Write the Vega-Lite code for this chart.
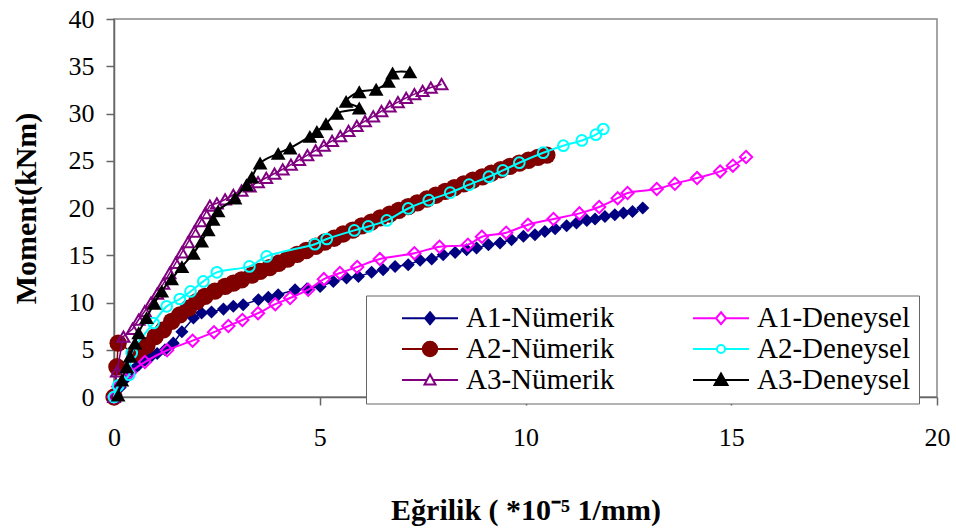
{
"$schema": "https://vega.github.io/schema/vega-lite/v6.json",
"width": 823, "height": 378,
"autosize": {"type": "none"},
"padding": {"left": 114, "top": 19, "right": 19, "bottom": 132},
"background": "white",
"data": {"values": [
{"series":"A1-Nümerik","x":0,"y":0},{"series":"A1-Nümerik","x":0.15,"y":1.0},{"series":"A1-Nümerik","x":0.3,"y":2.0},{"series":"A1-Nümerik","x":0.45,"y":2.8},{"series":"A1-Nümerik","x":0.6,"y":3.4},{"series":"A1-Nümerik","x":0.75,"y":3.9},{"series":"A1-Nümerik","x":0.9,"y":4.3},{"series":"A1-Nümerik","x":1.05,"y":4.6},{"series":"A1-Nümerik","x":1.24,"y":5.0},{"series":"A1-Nümerik","x":1.44,"y":5.7},{"series":"A1-Nümerik","x":1.65,"y":6.9},{"series":"A1-Nümerik","x":1.93,"y":8.35},{"series":"A1-Nümerik","x":2.13,"y":8.9},{"series":"A1-Nümerik","x":2.37,"y":9.0},{"series":"A1-Nümerik","x":2.66,"y":9.3},{"series":"A1-Nümerik","x":2.9,"y":9.6},{"series":"A1-Nümerik","x":3.14,"y":9.77},{"series":"A1-Nümerik","x":3.51,"y":10.3},{"series":"A1-Nümerik","x":3.75,"y":10.55},{"series":"A1-Nümerik","x":3.99,"y":10.83},{"series":"A1-Nümerik","x":4.4,"y":11.35},{"series":"A1-Nümerik","x":4.69,"y":11.46},{"series":"A1-Nümerik","x":5.01,"y":11.7},{"series":"A1-Nümerik","x":5.33,"y":12.23},{"series":"A1-Nümerik","x":5.65,"y":12.59},{"series":"A1-Nümerik","x":5.94,"y":12.76},{"series":"A1-Nümerik","x":6.26,"y":13.19},{"series":"A1-Nümerik","x":6.54,"y":13.47},{"series":"A1-Nümerik","x":6.83,"y":13.82},{"series":"A1-Nümerik","x":7.15,"y":14.0},{"series":"A1-Nümerik","x":7.44,"y":14.46},{"series":"A1-Nümerik","x":7.72,"y":14.6},{"series":"A1-Nümerik","x":8.0,"y":15.06},{"series":"A1-Nümerik","x":8.29,"y":15.3},{"series":"A1-Nümerik","x":8.57,"y":15.59},{"series":"A1-Nümerik","x":8.81,"y":15.77},{"series":"A1-Nümerik","x":9.1,"y":16.12},{"series":"A1-Nümerik","x":9.38,"y":16.3},{"series":"A1-Nümerik","x":9.66,"y":16.65},{"series":"A1-Nümerik","x":9.95,"y":17.0},{"series":"A1-Nümerik","x":10.23,"y":17.17},{"series":"A1-Nümerik","x":10.47,"y":17.52},{"series":"A1-Nümerik","x":10.72,"y":17.8},{"series":"A1-Nümerik","x":11.0,"y":18.13},{"series":"A1-Nümerik","x":11.24,"y":18.41},{"series":"A1-Nümerik","x":11.49,"y":18.69},{"series":"A1-Nümerik","x":11.69,"y":18.84},{"series":"A1-Nümerik","x":11.93,"y":19.11},{"series":"A1-Nümerik","x":12.17,"y":19.29},{"series":"A1-Nümerik","x":12.38,"y":19.47},{"series":"A1-Nümerik","x":12.6,"y":19.64},{"series":"A1-Nümerik","x":12.85,"y":20.0},
{"series":"A2-Nümerik","x":0,"y":0},{"series":"A2-Nümerik","x":0.07,"y":3.2},{"series":"A2-Nümerik","x":0.1,"y":5.7},{"series":"A2-Nümerik","x":0.5,"y":4.6},{"series":"A2-Nümerik","x":0.65,"y":5.0},{"series":"A2-Nümerik","x":0.8,"y":5.45},{"series":"A2-Nümerik","x":1.0,"y":6.4},{"series":"A2-Nümerik","x":1.2,"y":7.1},{"series":"A2-Nümerik","x":1.4,"y":8.0},{"series":"A2-Nümerik","x":1.6,"y":8.7},{"series":"A2-Nümerik","x":1.81,"y":9.4},{"series":"A2-Nümerik","x":2.01,"y":10.1},{"series":"A2-Nümerik","x":2.21,"y":10.65},{"series":"A2-Nümerik","x":2.45,"y":11.2},{"series":"A2-Nümerik","x":2.7,"y":11.7},{"series":"A2-Nümerik","x":2.9,"y":12.05},{"series":"A2-Nümerik","x":3.1,"y":12.4},{"series":"A2-Nümerik","x":3.35,"y":12.9},{"series":"A2-Nümerik","x":3.55,"y":13.3},{"series":"A2-Nümerik","x":3.78,"y":13.7},{"series":"A2-Nümerik","x":4.0,"y":14.15},{"series":"A2-Nümerik","x":4.22,"y":14.6},{"series":"A2-Nümerik","x":4.45,"y":15.1},{"series":"A2-Nümerik","x":4.67,"y":15.5},{"series":"A2-Nümerik","x":4.9,"y":15.95},{"series":"A2-Nümerik","x":5.12,"y":16.4},{"series":"A2-Nümerik","x":5.35,"y":16.8},{"series":"A2-Nümerik","x":5.57,"y":17.25},{"series":"A2-Nümerik","x":5.8,"y":17.65},{"series":"A2-Nümerik","x":6.02,"y":18.1},{"series":"A2-Nümerik","x":6.25,"y":18.5},{"series":"A2-Nümerik","x":6.47,"y":18.95},{"series":"A2-Nümerik","x":6.7,"y":19.35},{"series":"A2-Nümerik","x":6.92,"y":19.75},{"series":"A2-Nümerik","x":7.15,"y":20.15},{"series":"A2-Nümerik","x":7.37,"y":20.55},{"series":"A2-Nümerik","x":7.6,"y":20.95},{"series":"A2-Nümerik","x":7.82,"y":21.35},{"series":"A2-Nümerik","x":8.05,"y":21.75},{"series":"A2-Nümerik","x":8.27,"y":22.15},{"series":"A2-Nümerik","x":8.5,"y":22.55},{"series":"A2-Nümerik","x":8.72,"y":22.95},{"series":"A2-Nümerik","x":8.95,"y":23.3},{"series":"A2-Nümerik","x":9.17,"y":23.7},{"series":"A2-Nümerik","x":9.4,"y":24.05},{"series":"A2-Nümerik","x":9.62,"y":24.4},{"series":"A2-Nümerik","x":9.85,"y":24.75},{"series":"A2-Nümerik","x":10.07,"y":25.05},{"series":"A2-Nümerik","x":10.3,"y":25.35},{"series":"A2-Nümerik","x":10.52,"y":25.6},
{"series":"A3-Nümerik","x":0,"y":0},{"series":"A3-Nümerik","x":0.07,"y":2.7},{"series":"A3-Nümerik","x":0.23,"y":6.4},{"series":"A3-Nümerik","x":0.45,"y":7.2},{"series":"A3-Nümerik","x":0.6,"y":8.2},{"series":"A3-Nümerik","x":0.75,"y":9.1},{"series":"A3-Nümerik","x":0.9,"y":10.0},{"series":"A3-Nümerik","x":1.05,"y":10.95},{"series":"A3-Nümerik","x":1.2,"y":12.0},{"series":"A3-Nümerik","x":1.35,"y":13.1},{"series":"A3-Nümerik","x":1.5,"y":14.2},{"series":"A3-Nümerik","x":1.65,"y":15.3},{"series":"A3-Nümerik","x":1.8,"y":16.4},{"series":"A3-Nümerik","x":1.95,"y":17.5},{"series":"A3-Nümerik","x":2.1,"y":18.6},{"series":"A3-Nümerik","x":2.22,"y":19.45},{"series":"A3-Nümerik","x":2.33,"y":20.25},{"series":"A3-Nümerik","x":2.5,"y":20.5},{"series":"A3-Nümerik","x":2.7,"y":20.9},{"series":"A3-Nümerik","x":2.9,"y":21.4},{"series":"A3-Nümerik","x":3.1,"y":21.85},{"series":"A3-Nümerik","x":3.3,"y":22.3},{"series":"A3-Nümerik","x":3.5,"y":22.75},{"series":"A3-Nümerik","x":3.7,"y":23.2},{"series":"A3-Nümerik","x":3.9,"y":23.65},{"series":"A3-Nümerik","x":4.1,"y":24.1},{"series":"A3-Nümerik","x":4.3,"y":24.6},{"series":"A3-Nümerik","x":4.5,"y":25.1},{"series":"A3-Nümerik","x":4.7,"y":25.6},{"series":"A3-Nümerik","x":4.9,"y":26.1},{"series":"A3-Nümerik","x":5.1,"y":26.6},{"series":"A3-Nümerik","x":5.3,"y":27.1},{"series":"A3-Nümerik","x":5.5,"y":27.6},{"series":"A3-Nümerik","x":5.7,"y":28.15},{"series":"A3-Nümerik","x":5.9,"y":28.7},{"series":"A3-Nümerik","x":6.1,"y":29.2},{"series":"A3-Nümerik","x":6.3,"y":29.7},{"series":"A3-Nümerik","x":6.5,"y":30.25},{"series":"A3-Nümerik","x":6.7,"y":30.75},{"series":"A3-Nümerik","x":6.9,"y":31.2},{"series":"A3-Nümerik","x":7.1,"y":31.65},{"series":"A3-Nümerik","x":7.3,"y":32.05},{"series":"A3-Nümerik","x":7.5,"y":32.4},{"series":"A3-Nümerik","x":7.7,"y":32.75},{"series":"A3-Nümerik","x":7.96,"y":33.1},
{"series":"A1-Deneysel","x":0,"y":0},{"series":"A1-Deneysel","x":0.1,"y":1.1},{"series":"A1-Deneysel","x":0.39,"y":2.6},{"series":"A1-Deneysel","x":0.75,"y":3.7},{"series":"A1-Deneysel","x":1.29,"y":4.95},{"series":"A1-Deneysel","x":1.91,"y":5.96},{"series":"A1-Deneysel","x":2.43,"y":6.86},{"series":"A1-Deneysel","x":2.78,"y":7.51},{"series":"A1-Deneysel","x":3.12,"y":8.15},{"series":"A1-Deneysel","x":3.5,"y":8.87},{"series":"A1-Deneysel","x":3.92,"y":9.82},{"series":"A1-Deneysel","x":4.28,"y":10.48},{"series":"A1-Deneysel","x":4.72,"y":11.35},{"series":"A1-Deneysel","x":5.1,"y":12.47},{"series":"A1-Deneysel","x":5.49,"y":13.12},{"series":"A1-Deneysel","x":5.91,"y":13.76},{"series":"A1-Deneysel","x":6.46,"y":14.6},{"series":"A1-Deneysel","x":7.3,"y":15.22},{"series":"A1-Deneysel","x":7.91,"y":15.9},{"series":"A1-Deneysel","x":8.6,"y":16.12},{"series":"A1-Deneysel","x":8.94,"y":16.96},{"series":"A1-Deneysel","x":9.53,"y":17.39},{"series":"A1-Deneysel","x":10.06,"y":18.23},{"series":"A1-Deneysel","x":10.68,"y":18.84},{"series":"A1-Deneysel","x":11.31,"y":19.43},{"series":"A1-Deneysel","x":11.79,"y":20.11},{"series":"A1-Deneysel","x":12.24,"y":21.04},{"series":"A1-Deneysel","x":12.48,"y":21.59},{"series":"A1-Deneysel","x":13.19,"y":22.01},{"series":"A1-Deneysel","x":13.63,"y":22.57},{"series":"A1-Deneysel","x":14.17,"y":23.17},{"series":"A1-Deneysel","x":14.73,"y":23.87},{"series":"A1-Deneysel","x":15.04,"y":24.48},{"series":"A1-Deneysel","x":15.36,"y":25.4},
{"series":"A2-Deneysel","x":0,"y":0},{"series":"A2-Deneysel","x":0.1,"y":1.2},{"series":"A2-Deneysel","x":0.37,"y":2.36},{"series":"A2-Deneysel","x":0.43,"y":4.66},{"series":"A2-Deneysel","x":0.96,"y":7.83},{"series":"A2-Deneysel","x":1.28,"y":9.59},{"series":"A2-Deneysel","x":1.6,"y":10.37},{"series":"A2-Deneysel","x":1.86,"y":11.17},{"series":"A2-Deneysel","x":2.17,"y":12.23},{"series":"A2-Deneysel","x":2.5,"y":13.19},{"series":"A2-Deneysel","x":3.29,"y":13.82},{"series":"A2-Deneysel","x":3.71,"y":14.88},{"series":"A2-Deneysel","x":4.88,"y":16.17},{"series":"A2-Deneysel","x":5.17,"y":16.72},{"series":"A2-Deneysel","x":5.84,"y":17.63},{"series":"A2-Deneysel","x":6.18,"y":18.05},{"series":"A2-Deneysel","x":6.63,"y":18.69},{"series":"A2-Deneysel","x":7.15,"y":19.95},{"series":"A2-Deneysel","x":7.65,"y":20.83},{"series":"A2-Deneysel","x":8.17,"y":21.62},{"series":"A2-Deneysel","x":8.63,"y":22.47},{"series":"A2-Deneysel","x":9.11,"y":23.31},{"series":"A2-Deneysel","x":9.45,"y":23.98},{"series":"A2-Deneysel","x":9.85,"y":24.79},{"series":"A2-Deneysel","x":10.43,"y":25.85},{"series":"A2-Deneysel","x":10.92,"y":26.59},{"series":"A2-Deneysel","x":11.37,"y":27.15},{"series":"A2-Deneysel","x":11.71,"y":27.76},{"series":"A2-Deneysel","x":11.89,"y":28.36},
{"series":"A3-Deneysel","x":0.1,"y":0.2},{"series":"A3-Deneysel","x":0.19,"y":1.8},{"series":"A3-Deneysel","x":0.31,"y":3.2},{"series":"A3-Deneysel","x":0.39,"y":4.3},{"series":"A3-Deneysel","x":0.51,"y":5.7},{"series":"A3-Deneysel","x":0.6,"y":6.8},{"series":"A3-Deneysel","x":0.79,"y":8.4},{"series":"A3-Deneysel","x":0.98,"y":9.9},{"series":"A3-Deneysel","x":1.16,"y":11.2},{"series":"A3-Deneysel","x":1.4,"y":12.5},{"series":"A3-Deneysel","x":1.65,"y":13.8},{"series":"A3-Deneysel","x":1.93,"y":15.2},{"series":"A3-Deneysel","x":2.13,"y":16.5},{"series":"A3-Deneysel","x":2.29,"y":17.7},{"series":"A3-Deneysel","x":2.41,"y":18.8},{"series":"A3-Deneysel","x":2.53,"y":19.7},{"series":"A3-Deneysel","x":2.94,"y":21.06},{"series":"A3-Deneysel","x":3.22,"y":22.46},{"series":"A3-Deneysel","x":3.35,"y":23.26},{"series":"A3-Deneysel","x":3.55,"y":24.76},{"series":"A3-Deneysel","x":3.99,"y":25.78},{"series":"A3-Deneysel","x":4.28,"y":26.35},{"series":"A3-Deneysel","x":4.76,"y":27.58},{"series":"A3-Deneysel","x":4.93,"y":28.1},{"series":"A3-Deneysel","x":5.15,"y":28.92},{"series":"A3-Deneysel","x":5.42,"y":30.03},{"series":"A3-Deneysel","x":5.96,"y":30.58},{"series":"A3-Deneysel","x":5.64,"y":31.28},{"series":"A3-Deneysel","x":5.96,"y":32.3},{"series":"A3-Deneysel","x":6.37,"y":32.57},{"series":"A3-Deneysel","x":6.67,"y":33.4},{"series":"A3-Deneysel","x":6.77,"y":34.29},{"series":"A3-Deneysel","x":7.19,"y":34.4}
]},
"encoding": {
  "x": {"field": "x", "type": "quantitative", "scale": {"domain": [0, 20], "nice": false},
        "axis": {"values": [0, 5, 10, 15, 20], "title": "Eğrilik ( *10⁻⁵ 1/mm)", "titlePadding": 45, "labelPadding": 19}},
  "y": {"field": "y", "type": "quantitative", "scale": {"domain": [0, 40], "nice": false},
        "axis": {"values": [0, 5, 10, 15, 20, 25, 30, 35, 40], "title": "Moment(kNm)", "titlePadding": 27, "labelPadding": 12}}
},
"layer": [
  {"transform": [{"filter": {"field": "series", "equal": "A1-Nümerik"}}], "mark": {"type": "line", "color": "#000080", "strokeWidth": 1.5}, "encoding": {"order": {"value": null}}},
  {"transform": [{"filter": {"field": "series", "equal": "A1-Nümerik"}}], "mark": {"type": "point", "shape": "diamond", "size": 170, "filled": true, "color": "#000080", "opacity": 1}},
  {"transform": [{"filter": {"field": "series", "equal": "A2-Nümerik"}}], "mark": {"type": "line", "color": "#800000", "strokeWidth": 1.5}, "encoding": {"order": {"value": null}}},
  {"transform": [{"filter": {"field": "series", "equal": "A2-Nümerik"}}], "mark": {"type": "point", "shape": "circle", "size": 300, "filled": true, "color": "#800000", "opacity": 1}},
  {"transform": [{"filter": {"field": "series", "equal": "A3-Nümerik"}}], "mark": {"type": "line", "color": "#800080", "strokeWidth": 1.5}, "encoding": {"order": {"value": null}}},
  {"transform": [{"filter": {"field": "series", "equal": "A3-Nümerik"}}], "mark": {"type": "point", "shape": "triangle-up", "size": 140, "filled": false, "color": "#800080", "strokeWidth": 2, "opacity": 1}},
  {"transform": [{"filter": {"field": "series", "equal": "A1-Deneysel"}}], "mark": {"type": "line", "color": "#FF00FF", "strokeWidth": 2, "interpolate": "catmull-rom"}, "encoding": {"order": {"value": null}}},
  {"transform": [{"filter": {"field": "series", "equal": "A1-Deneysel"}}], "mark": {"type": "point", "shape": "diamond", "size": 150, "filled": false, "color": "#FF00FF", "strokeWidth": 2, "opacity": 1}},
  {"transform": [{"filter": {"field": "series", "equal": "A2-Deneysel"}}], "mark": {"type": "line", "color": "#00FFFF", "strokeWidth": 2, "interpolate": "catmull-rom"}, "encoding": {"order": {"value": null}}},
  {"transform": [{"filter": {"field": "series", "equal": "A2-Deneysel"}}], "mark": {"type": "point", "shape": "circle", "size": 115, "filled": false, "color": "#00FFFF", "strokeWidth": 2, "opacity": 1}},
  {"transform": [{"filter": {"field": "series", "equal": "A3-Deneysel"}}], "mark": {"type": "line", "color": "#000000", "strokeWidth": 2, "interpolate": "catmull-rom"}, "encoding": {"order": {"value": null}}},
  {"transform": [{"filter": {"field": "series", "equal": "A3-Deneysel"}}], "mark": {"type": "point", "shape": "triangle-up", "size": 220, "filled": true, "color": "#000000", "opacity": 1}},
  {"transform": [{"filter": "datum.x < 0"}],
   "mark": {"type": "point", "filled": false, "opacity": 1},
   "encoding": {
     "color": {"field": "series", "type": "nominal",
       "scale": {"domain": ["A1-Nümerik","A2-Nümerik","A3-Nümerik","A1-Deneysel","A2-Deneysel","A3-Deneysel"],
                 "range": ["#000080","#800000","#800080","#FF00FF","#00FFFF","#000000"]},
       "legend": {"title": null, "orient": "none", "legendX": 252, "legendY": 276.5, "columns": 2, "columnPadding": 50, "rowPadding": 1, "padding": 8,
                  "symbolSize": 100, "symbolStrokeWidth": 2, "symbolOffset": 41.5, "labelOffset": 21.5,
                  "labelFont": "Liberation Serif", "labelFontSize": 29, "labelColor": "black", "strokeColor": "#666666", "fillColor": "white", "labelLimit": 0}},
     "fill": {"field": "series", "type": "nominal",
       "scale": {"domain": ["A1-Nümerik","A2-Nümerik","A3-Nümerik","A1-Deneysel","A2-Deneysel","A3-Deneysel"],
                 "range": ["#000080","#800000","#FFFFFF","#FFFFFF","#FFFFFF","#000000"]}},
     "shape": {"field": "series", "type": "nominal",
       "scale": {"domain": ["A1-Nümerik","A2-Nümerik","A3-Nümerik","A1-Deneysel","A2-Deneysel","A3-Deneysel"],
                 "range": ["M-5.6,0H-1M1,0H5.6M0,-1.2L1,0L0,1.2L-1,0Z",
                           "M-5.6,0H-1.45M1.45,0H5.6M-1.45,0A1.45,1.45,0,1,0,1.45,0A1.45,1.45,0,1,0,-1.45,0Z",
                           "M-5.6,0H-0.6M0.6,0H5.6M0,-1.1L1.1,0.9L-1.1,0.9Z",
                           "M-5.6,0H-1M1,0H5.6M0,-1.2L1,0L0,1.2L-1,0Z",
                           "M-5.6,0H-0.8M0.8,0H5.6M-0.8,0A0.8,0.8,0,1,0,0.8,0A0.8,0.8,0,1,0,-0.8,0Z",
                           "M-5.6,0H-0.7M0.7,0H5.6M0,-1.3L1.3,1L-1.3,1Z"]}}
   }}
],
"config": {
  "font": "Liberation Serif",
  "view": {"stroke": "#888888", "strokeWidth": 1.5},
  "axis": {"grid": false, "domainColor": "#666666", "domainWidth": 1.5, "tickColor": "#666666", "tickWidth": 1.5, "tickSize": 8,
           "labelFont": "Liberation Serif", "labelFontSize": 26, "labelColor": "black", "labelFlush": false, "labelOverlap": false,
           "titleFont": "Liberation Serif", "titleFontSize": 30, "titleFontWeight": "bold", "titleColor": "black"}
}
}
